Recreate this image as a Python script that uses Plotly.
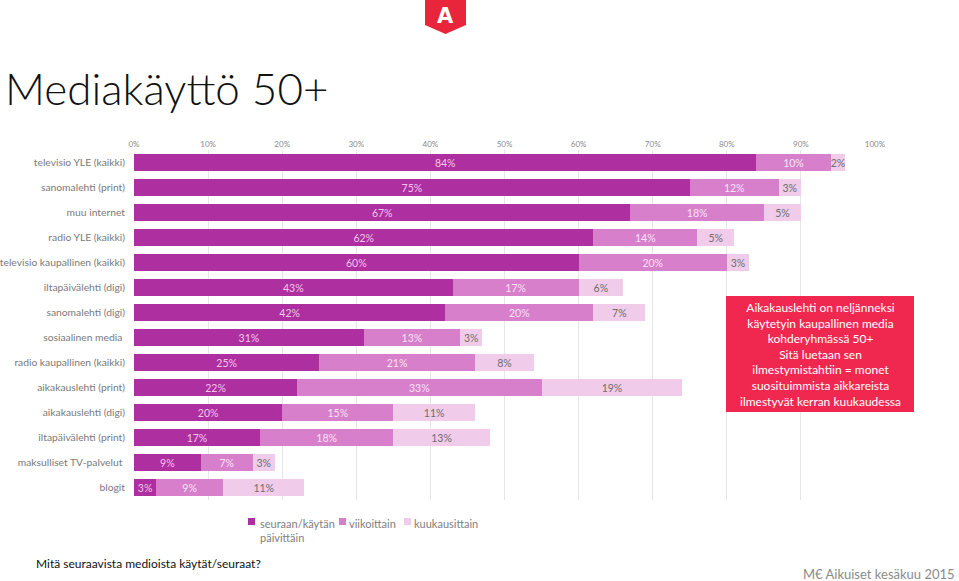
import plotly.graph_objects as go

categories = ["televisio YLE (kaikki)", "sanomalehti (print)", "muu internet", "radio YLE (kaikki)",
              "televisio kaupallinen (kaikki)", "iltapäivälehti (digi)", "sanomalehti (digi)",
              "sosiaalinen media ", "radio kaupallinen (kaikki)", "aikakauslehti (print)",
              "aikakauslehti (digi)", "iltapäivälehti (print)", "maksulliset TV-palvelut ", "blogit"]
daily = [84, 75, 67, 62, 60, 43, 42, 31, 25, 22, 20, 17, 9, 3]
weekly = [10, 12, 18, 14, 20, 17, 20, 13, 21, 33, 15, 18, 7, 9]
monthly = [2, 3, 5, 5, 3, 6, 7, 3, 8, 19, 11, 13, 3, 11]
series_names = ["seuraan/käytän<br>päivittäin", "viikoittain", "kuukausittain"]
colors = ["#AE2F9F", "#D87FCC", "#F0CBEA"]
text_colors = ["#F3C6EC", "#F7E3F3", "#6E6E6E"]

# plot area pixels
L, R, T, B = 134, 875, 150, 500
def px(x): return (x - L) / (R - L)
def py(y): return (B - y) / (B - T)

FONT = "Lato"
fig = go.Figure()
for name, vals, c, tc in zip(series_names, [daily, weekly, monthly], colors, text_colors):
    fig.add_trace(go.Bar(
        y=categories, x=vals, orientation="h", name=name,
        marker=dict(color=c, line=dict(width=0)),
        text=[f"{v}%" for v in vals], textposition="inside", insidetextanchor="middle",
        textangle=0, constraintext="none",
        textfont=dict(color=tc, size=10.5, family=FONT),
        hoverinfo="x+y",
    ))

fig.update_layout(
    barmode="stack", bargap=0.32,
    width=959, height=581,
    margin=dict(l=L, r=959 - R, t=T, b=581 - B, autoexpand=False),
    paper_bgcolor="white", plot_bgcolor="white",
    font=dict(family=FONT, color="#666666"),
    xaxis=dict(range=[0, 100], dtick=10, side="top", ticksuffix="%",
               tickfont=dict(size=8, color="#8A8A8A"), showgrid=True,
               gridcolor="#E6E6E6", gridwidth=1, zeroline=False, showline=False,
               automargin=False, fixedrange=True),
    yaxis=dict(autorange="reversed", tickfont=dict(size=10.3, color="#7A7A7A"),
               showgrid=False, zeroline=False, ticks="", ticklabelstandoff=8,
               automargin=False),
    showlegend=False,
)

# manual legend
legend_items = [(248, 258), (339, 347), (404, 412)]
for (sx, tx), name, c in zip(legend_items, series_names, colors):
    fig.add_shape(type="rect", xref="paper", yref="paper",
                  x0=px(sx), x1=px(sx + 7), y0=py(525), y1=py(518),
                  fillcolor=c, line=dict(width=0))
    fig.add_annotation(xref="paper", yref="paper", x=px(tx), y=py(514.5),
                       xanchor="left", yanchor="top", showarrow=False, align="left",
                       text=name, font=dict(size=11, color="#808080", family=FONT))

# red info box
fig.add_shape(type="rect", xref="paper", yref="paper",
              x0=px(726), x1=px(914), y0=py(412), y1=py(296),
              fillcolor="#F0284F", line=dict(width=0), layer="above")
fig.add_annotation(xref="paper", yref="paper", x=px(820), y=py(354), showarrow=False,
                   xanchor="center", yanchor="middle",
                   text="Aikakauslehti on neljänneksi<br>käytetyin kaupallinen media<br>kohderyhmässä 50+<br>Sitä luetaan sen<br>ilmestymistahtiin = monet<br>suosituimmista aikkareista<br>ilmestyvät kerran kuukaudessa",
                   font=dict(size=12, color="white", family=FONT), align="center")

# title
fig.add_annotation(xref="paper", yref="paper", x=px(3), y=py(88), xanchor="left", yanchor="middle",
                   showarrow=False, text="Mediakäyttö 50+",
                   font=dict(size=44, color="#111111", family=FONT, weight=300))

# logo shield
path = "M {} {} L {} {} L {} {} L {} {} L {} {} Z".format(
    px(425), py(0), px(466), py(0), px(466), py(25), px(445.5), py(34), px(425), py(25))
fig.add_shape(type="path", xref="paper", yref="paper", path=path,
              fillcolor="#E8253A", line=dict(width=0))
fig.add_annotation(xref="paper", yref="paper", x=px(445.5), y=py(16), showarrow=False,
                   xanchor="center", yanchor="middle",
                   text="<b>A</b>", font=dict(size=21, color="white", family="DejaVu Sans"))

# footer texts
fig.add_annotation(xref="paper", yref="paper", x=px(34), y=py(563), xanchor="left", yanchor="middle",
                   showarrow=False, text="Mitä seuraavista medioista käytät/seuraat?",
                   font=dict(size=12, color="#111111", family=FONT))
fig.add_annotation(xref="paper", yref="paper", x=px(957), y=py(574), xanchor="right", yanchor="middle",
                   showarrow=False, text="M€ Aikuiset kesäkuu 2015",
                   font=dict(size=13, color="#8A8A8A", family=FONT))

fig.write_html("out.html", config={"displayModeBar": False},
               post_script="document.body.style.margin='0';document.body.style.overflow='hidden';")
